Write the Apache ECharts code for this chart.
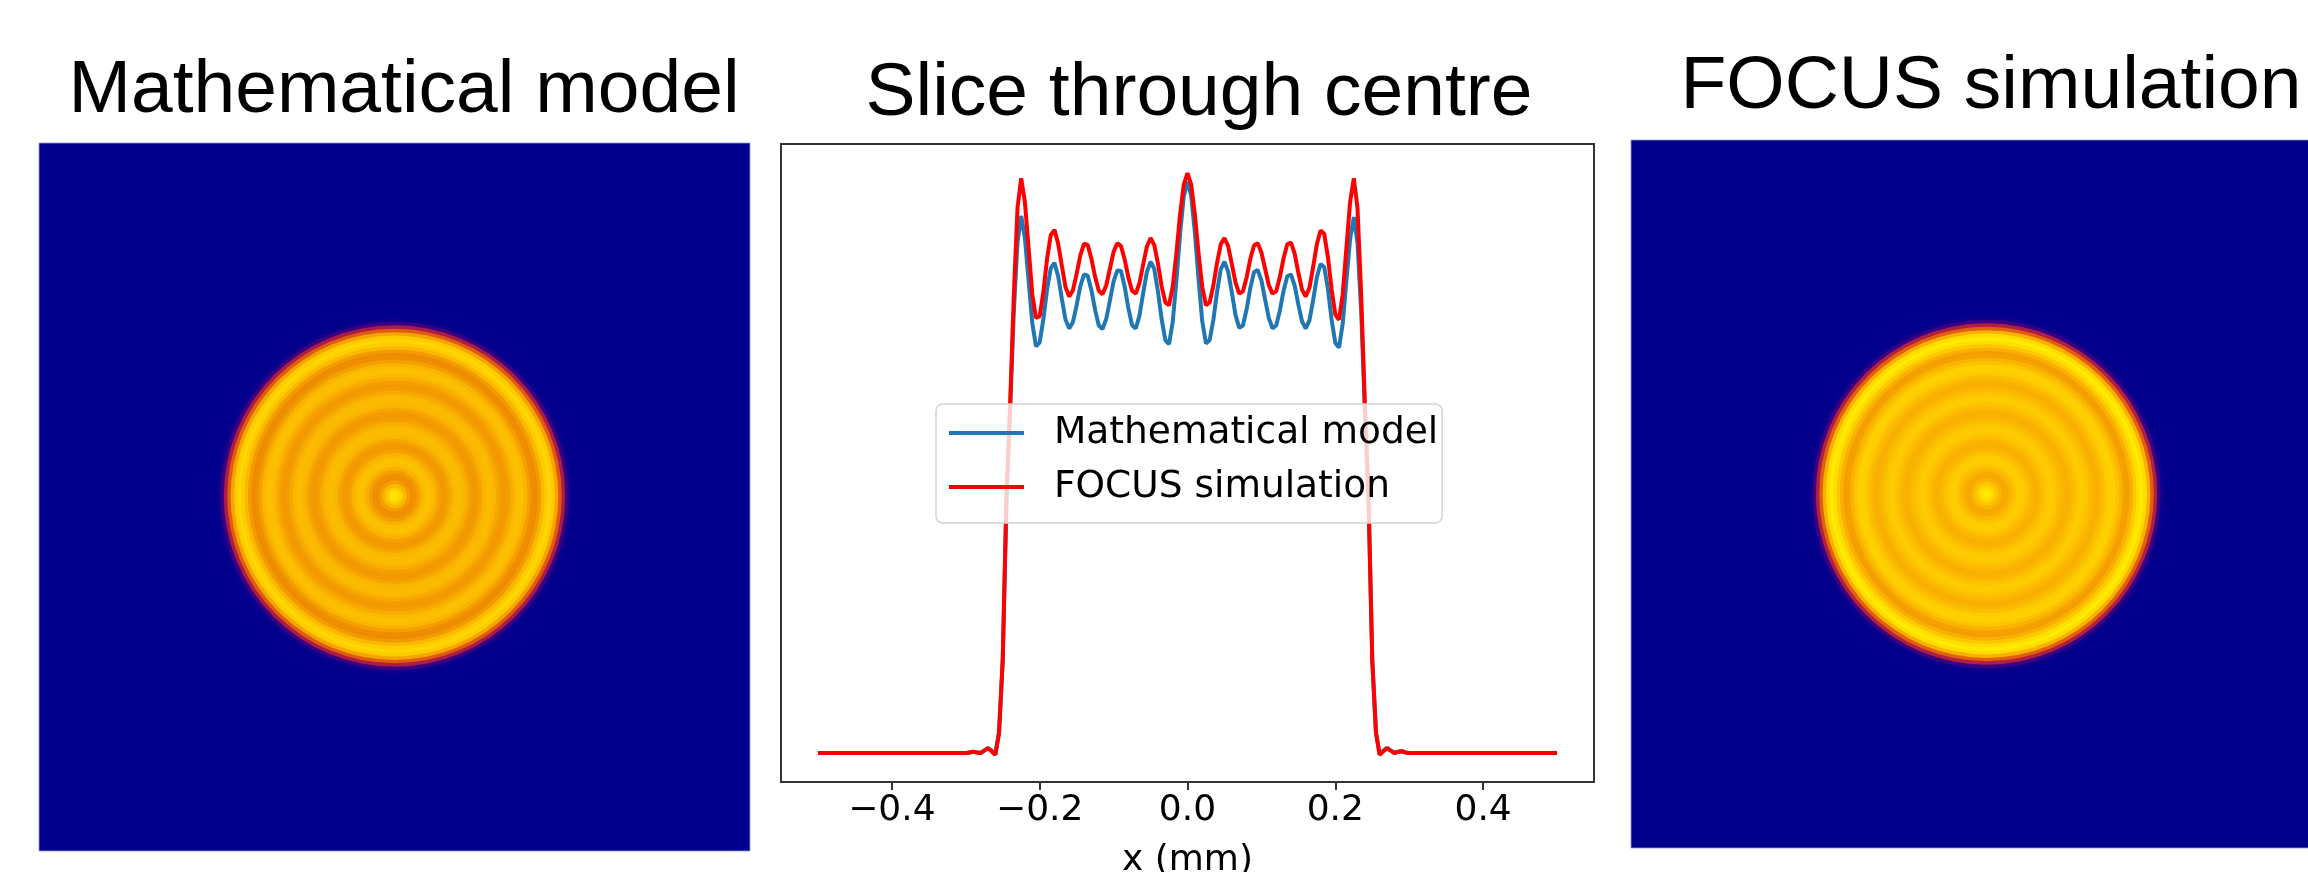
<!DOCTYPE html>
<html>
<head>
<meta charset="utf-8">
<script src="https://cdn.jsdelivr.net/npm/echarts@6/dist/echarts.min.js"></script>
<style>
  html, body { margin: 0; padding: 0; background: #fff; }
  #chart { width: 2308px; height: 872px; }
</style>
</head>
<body>
<div id="chart"></div>
<script>
// x positions of the slice (mm)
const sliceX = [
  -0.5, -0.4, -0.35,
  -0.300, -0.295, -0.290, -0.285, -0.280, -0.275, -0.270, -0.265, -0.260, -0.255,
  -0.250, -0.245, -0.240, -0.235, -0.230, -0.225, -0.220, -0.215, -0.210, -0.205,
  -0.200, -0.195, -0.190, -0.185, -0.180, -0.175, -0.170, -0.165, -0.160, -0.155,
  -0.150, -0.145, -0.140, -0.135, -0.130, -0.125, -0.120, -0.115, -0.110, -0.105,
  -0.100, -0.095, -0.090, -0.085, -0.080, -0.075, -0.070, -0.065, -0.060, -0.055,
  -0.050, -0.045, -0.040, -0.035, -0.030, -0.025, -0.020, -0.015, -0.010, -0.005,
  0.000,
  0.005, 0.010, 0.015, 0.020, 0.025, 0.030, 0.035, 0.040, 0.045, 0.050,
  0.055, 0.060, 0.065, 0.070, 0.075, 0.080, 0.085, 0.090, 0.095, 0.100,
  0.105, 0.110, 0.115, 0.120, 0.125, 0.130, 0.135, 0.140, 0.145, 0.150,
  0.155, 0.160, 0.165, 0.170, 0.175, 0.180, 0.185, 0.190, 0.195, 0.200,
  0.205, 0.210, 0.215, 0.220, 0.225, 0.230, 0.235, 0.240, 0.245, 0.250,
  0.255, 0.260, 0.265, 0.270, 0.275, 0.280, 0.285, 0.290, 0.295, 0.300,
  0.35, 0.4, 0.5
];

// Mathematical model (blue)
const mathModel = [
  0, 0, 0,
  0.000, 0.001, 0.002, 0.001, 0.000, 0.004, 0.009, 0.004, -0.003, 0.035,
  0.160, 0.430, 0.590, 0.760, 0.880, 0.926, 0.888, 0.815, 0.741, 0.701,
  0.708, 0.748, 0.799, 0.836, 0.845, 0.822, 0.783, 0.747, 0.732, 0.743,
  0.772, 0.805, 0.825, 0.823, 0.798, 0.764, 0.737, 0.731, 0.748, 0.780,
  0.813, 0.832, 0.831, 0.804, 0.767, 0.738, 0.732, 0.754, 0.793, 0.829,
  0.847, 0.835, 0.796, 0.748, 0.712, 0.705, 0.743, 0.815, 0.896, 0.960,
  0.985,
  0.961, 0.897, 0.816, 0.744, 0.706, 0.712, 0.747, 0.795, 0.834, 0.847,
  0.830, 0.794, 0.755, 0.733, 0.737, 0.765, 0.802, 0.829, 0.833, 0.815,
  0.782, 0.750, 0.732, 0.737, 0.763, 0.797, 0.822, 0.825, 0.806, 0.773,
  0.744, 0.732, 0.746, 0.781, 0.820, 0.843, 0.838, 0.800, 0.747, 0.707,
  0.699, 0.740, 0.814, 0.886, 0.924, 0.880, 0.760, 0.590, 0.430, 0.160,
  0.035, -0.003, 0.004, 0.009, 0.004, 0.000, 0.002, 0.003, 0.001, 0.000,
  0, 0, 0
];

// FOCUS simulation (red)
const focusSim = [
  0, 0, 0,
  0.000, 0.001, 0.002, 0.001, 0.000, 0.004, 0.008, 0.003, -0.003, 0.035,
  0.160, 0.440, 0.600, 0.790, 0.940, 0.991, 0.950, 0.871, 0.791, 0.750,
  0.753, 0.795, 0.852, 0.893, 0.902, 0.878, 0.840, 0.803, 0.787, 0.798,
  0.826, 0.858, 0.878, 0.876, 0.852, 0.821, 0.797, 0.791, 0.806, 0.835,
  0.864, 0.879, 0.874, 0.851, 0.820, 0.797, 0.792, 0.810, 0.842, 0.873,
  0.888, 0.876, 0.844, 0.805, 0.777, 0.772, 0.804, 0.862, 0.929, 0.980,
  1.000,
  0.980, 0.928, 0.861, 0.803, 0.772, 0.777, 0.806, 0.845, 0.877, 0.888,
  0.874, 0.843, 0.811, 0.792, 0.796, 0.820, 0.852, 0.875, 0.879, 0.863,
  0.835, 0.807, 0.792, 0.796, 0.821, 0.853, 0.877, 0.880, 0.861, 0.828,
  0.799, 0.787, 0.802, 0.838, 0.877, 0.901, 0.895, 0.855, 0.799, 0.756,
  0.747, 0.791, 0.871, 0.950, 0.991, 0.940, 0.790, 0.600, 0.440, 0.160,
  0.035, -0.003, 0.003, 0.008, 0.004, 0.000, 0.002, 0.003, 0.001, 0.000,
  0, 0, 0
];

const tickValues = [-0.4, -0.2, 0.0, 0.2, 0.4];
const tickLabels = ['\u22120.4', '\u22120.2', '0.0', '0.2', '0.4'];

const seriesNames = ['Mathematical model', 'FOCUS simulation'];
const panelTitles = ['Mathematical model', 'Slice through centre', 'FOCUS simulation'];

// colour scale of the two intensity maps, low -> high
const ringColors = ['#00008c', '#22008a', '#480080', '#72006c', '#a01050', '#c83428',
  '#e06010', '#ee8c00', '#fab400', '#ffd000', '#ffee00'];

const NAVY = '#00008c';
const PX_PER_MM = 690;
const RING_STEP = 0.005;
const RING_MAX = 0.3;

// radial profile of each map = the x >= 0 half of its slice
const ringIdx = sliceX.map((x, i) => i).filter(i => sliceX[i] >= 0 && sliceX[i] <= RING_MAX);
const ringRadius = ringIdx.map(i => sliceX[i]);
const ringMath = ringIdx.map(i => mathModel[i]);
const ringFocus = ringIdx.map(i => focusSim[i]);
const outerRadius = RING_MAX + RING_STEP / 2;

const pairs = ys => sliceX.map((x, i) => [x, ys[i]]);

// each ring is a filled disk out to its outer edge, biggest first so smaller ones sit on top
const disks = vals => ringRadius.map((r, i) => [r + RING_STEP / 2, 0, vals[i]]).reverse();

function renderDisk(params, api) {
  const cx = params.coordSys.cx;
  const cy = params.coordSys.cy;
  const p = api.coord([api.value(0), 0]);
  return {
    type: 'circle',
    z2: params.dataIndex,
    shape: { cx: cx, cy: cy, r: Math.hypot(p[0] - cx, p[1] - cy) },
    style: { fill: api.visual('color') }
  };
}

const titleFont = { fontFamily: 'Liberation Sans', fontSize: 75, fontWeight: 'normal', color: '#000' };
const tickFont = { fontFamily: 'DejaVu Sans', fontSize: 36, color: '#000' };

const chart = echarts.init(document.getElementById('chart'));

const option = {
  animation: false,
  backgroundColor: '#fff',
  title: [
    { text: panelTitles[0], left: 399, top: 49, textAlign: 'center', textStyle: titleFont },
    { text: panelTitles[1], left: 1194, top: 52, textAlign: 'center', textStyle: titleFont },
    { text: panelTitles[2], left: 1986, top: 45, textAlign: 'center', textStyle: titleFont }
  ],
  legend: {
    data: seriesNames,
    orient: 'vertical',
    left: 936,
    top: 404,
    icon: 'rect',
    itemWidth: 75,
    itemHeight: 4,
    itemGap: 16,
    padding: [10, 4, 17, 13],
    backgroundColor: 'rgba(255,255,255,0.8)',
    borderColor: '#d4d4d4',
    borderWidth: 1.5,
    borderRadius: 7,
    textStyle: { fontFamily: 'DejaVu Sans', fontSize: 37.5, color: '#000', padding: [0, 0, 0, 25] }
  },
  grid: [
    {
      left: 781, top: 144, width: 813, height: 638,
      outerBoundsMode: 'none', containLabel: false,
      show: true, borderColor: '#333', borderWidth: 2, backgroundColor: '#fff'
    },
    { left: 39, top: 143, width: 711, height: 708, outerBoundsMode: 'none', show: true, backgroundColor: NAVY, borderColor: 'rgba(150,150,215,0.8)', borderWidth: 1 },
    { left: 1631, top: 140, width: 711, height: 708, outerBoundsMode: 'none', show: true, backgroundColor: NAVY, borderColor: 'rgba(150,150,215,0.8)', borderWidth: 1 }
  ],
  xAxis: [
    {
      gridIndex: 0,
      type: 'value',
      min: -0.55,
      max: 0.55,
      axisLine: { show: true, onZero: false, lineStyle: { color: '#333', width: 2 } },
      axisTick: { show: true, inside: false, customValues: tickValues, length: 8, lineStyle: { color: '#333', width: 2 } },
      axisLabel: {
        customValues: tickValues,
        margin: 11,
        ...tickFont,
        formatter: v => tickLabels[tickValues.findIndex(t => Math.abs(t - v) < 1e-9)] || ''
      },
      splitLine: { show: false },
      name: 'x (mm)',
      nameLocation: 'middle',
      nameGap: 61,
      nameTextStyle: tickFont
    },
    { gridIndex: 1, type: 'value', min: -0.5, max: 0.5, show: false },
    { gridIndex: 2, type: 'value', min: -0.5, max: 0.5, show: false }
  ],
  yAxis: [
    { gridIndex: 0, type: 'value', min: -0.05, max: 1.05, show: false },
    { gridIndex: 1, type: 'value', min: -0.5, max: 0.5, show: false },
    { gridIndex: 2, type: 'value', min: -0.5, max: 0.5, show: false }
  ],
  polar: [
    { center: [394.5, 496], radius: [0, outerRadius * PX_PER_MM] },
    { center: [1986.5, 494], radius: [0, outerRadius * PX_PER_MM] }
  ],
  angleAxis: [
    { polarIndex: 0, type: 'value', min: 0, max: 360, show: false },
    { polarIndex: 1, type: 'value', min: 0, max: 360, show: false }
  ],
  radiusAxis: [
    { polarIndex: 0, type: 'value', min: 0, max: outerRadius, show: false },
    { polarIndex: 1, type: 'value', min: 0, max: outerRadius, show: false }
  ],
  visualMap: {
    type: 'continuous',
    show: false,
    min: 0,
    max: 1,
    dimension: 2,
    seriesIndex: [2, 3],
    inRange: { color: ringColors }
  },
  series: [
    {
      name: seriesNames[0],
      type: 'line',
      xAxisIndex: 0,
      yAxisIndex: 0,
      data: pairs(mathModel),
      symbol: 'none',
      lineStyle: { color: '#1f77b4', width: 4 },
      itemStyle: { color: '#1f77b4' },
      z: 2
    },
    {
      name: seriesNames[1],
      type: 'line',
      xAxisIndex: 0,
      yAxisIndex: 0,
      data: pairs(focusSim),
      symbol: 'none',
      lineStyle: { color: '#ff0000', width: 4 },
      itemStyle: { color: '#ff0000' },
      z: 3
    },
    {
      type: 'custom',
      coordinateSystem: 'polar',
      polarIndex: 0,
      encode: { radius: 0, angle: 1 },
      data: disks(ringMath),
      renderItem: renderDisk,
      silent: true
    },
    {
      type: 'custom',
      coordinateSystem: 'polar',
      polarIndex: 1,
      encode: { radius: 0, angle: 1 },
      data: disks(ringFocus),
      renderItem: renderDisk,
      silent: true
    }
  ]
};

chart.setOption(option);
</script>
</body>
</html>
